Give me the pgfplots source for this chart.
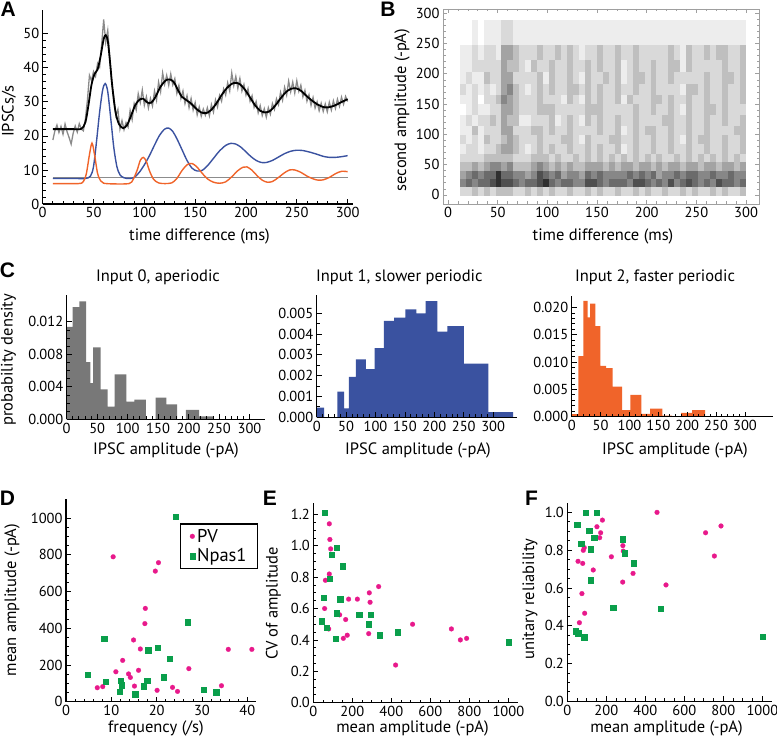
\documentclass[border=0pt]{standalone}
\usepackage{fontspec}
\setmainfont{PT Sans}
\newfontfamily\letterfont{Liberation Sans}
\usepackage{pgfplots}
\usepackage{pgfplotstable}
\pgfplotsset{compat=1.18}
\definecolor{cblue}{HTML}{3A52A0}
\definecolor{corange}{HTML}{F0642A}
\definecolor{cgray}{HTML}{787878}
\definecolor{cpink}{HTML}{E8198B}
\definecolor{cgreen}{HTML}{0A9F4B}
\definecolor{noisegray}{HTML}{8A8A8A}
\newcommand\fs[1]{\fontsize{#1}{#1}\selectfont}
\pgfdeclareplotmark{cell}{\pgfpathrectangle{\pgfqpoint{-0.5pt}{-0.5pt}}{\pgfqpoint{1pt}{1pt}}\pgfusepathqfill}
\pgfplotsset{
  panel/.style={scale only axis, axis lines=left, axis line style={-, line width=1.3pt},
    tick align=inside, major tick length=5pt, minor tick length=3pt,
    tick style={black, line width=0.8pt}, tick label style={font={\fs{14.5}}},
    /pgf/number format/assume math mode=true, /pgf/number format/1000 sep={}, scaled ticks=false},
  pv/.style={only marks, mark=*, mark size=2.4pt, mark options={draw=cpink, fill=cpink, line width=0.2pt},
    legend image code/.code={\draw[##1] plot coordinates {(0pt,0pt)};}},
  np/.style={only marks, mark=square*, mark size=2.7pt, mark options={draw=cgreen, fill=cgreen, line width=0.2pt},
    legend image code/.code={\draw[##1] plot coordinates {(0pt,0pt)};}},
}
\pgfplotstableread{
t r1 r2 r3 r4 r5 r6 r7 r8 r9 r10 r11 r12 r13 r14 r15 r16
15 2 5 4 3 2 1 2 1 1 0 1 2 1 1 1 0
21 2 6 5 3 2 2 1 1 2 1 1 1 2 1 1 0
27 3 5 6 4 2 2 2 3 1 2 2 2 1 2 2 1
33 2 6 5 3 2 1 1 1 2 1 0 1 1 2 1 0
39 3 6 6 4 3 2 3 2 2 1 2 2 3 2 2 1
45 2 7 6 5 3 2 2 2 3 2 2 1 2 2 2 1
51 3 8 8 5 3 3 2 2 2 2 3 2 2 2 1 1
57 3 7 6 4 3 4 3 4 4 4 5 4 4 4 4 2
63 3 7 6 5 3 4 4 4 3 4 4 5 4 3 4 2
69 2 6 5 3 2 3 3 2 3 3 3 3 2 3 3 1
75 2 5 5 3 2 2 2 2 1 2 2 2 2 2 2 1
81 3 6 4 3 2 1 2 2 1 2 2 1 2 1 2 1
87 2 6 5 4 3 2 2 3 2 2 2 2 2 3 2 1
93 3 7 7 5 3 3 3 3 2 3 3 3 3 2 3 1
99 2 8 6 4 3 2 2 2 2 3 2 2 1 2 2 1
105 3 6 5 3 2 3 2 3 3 3 2 3 3 3 2 1
111 2 5 6 4 3 2 2 2 1 2 2 2 2 2 3 1
117 2 6 4 3 2 2 3 2 2 2 1 2 2 2 2 1
123 3 6 5 4 2 3 3 3 3 2 3 3 3 3 3 1
129 2 5 5 3 3 2 2 2 2 2 2 3 2 2 2 1
135 2 5 4 3 2 2 1 2 1 2 1 2 1 2 1 1
141 3 7 6 4 3 3 3 2 3 3 3 3 3 3 2 1
147 2 7 5 4 2 2 2 2 2 3 2 2 2 2 2 1
153 3 6 6 4 3 3 2 3 3 3 3 3 2 3 3 1
159 2 5 5 3 2 2 2 2 2 2 2 2 3 2 2 1
165 2 6 5 4 3 2 3 2 2 2 2 2 2 2 2 1
171 3 6 5 3 2 3 3 3 3 2 3 3 3 3 3 1
177 2 6 5 4 3 1 2 1 2 2 1 2 1 1 2 1
183 2 5 6 4 2 2 2 2 2 2 3 2 2 2 2 1
189 3 7 5 3 3 3 3 3 3 3 2 3 3 3 3 1
195 2 7 6 4 2 2 2 2 2 2 2 2 3 2 2 1
201 3 6 5 4 3 2 2 3 2 2 2 2 2 2 2 1
207 2 5 6 3 2 3 3 3 2 3 3 3 3 3 2 1
213 2 6 4 4 3 2 2 2 2 2 3 2 2 2 2 1
219 3 5 5 3 2 2 2 2 3 2 2 2 2 2 2 1
225 2 7 5 4 2 3 3 3 3 3 3 2 3 3 3 1
231 2 5 6 4 3 2 2 2 2 2 2 2 2 3 2 1
237 3 6 5 3 2 2 1 2 2 1 2 1 2 1 1 1
243 2 7 6 4 3 3 3 3 3 3 3 3 2 3 3 1
249 3 6 6 4 2 2 2 2 2 2 2 3 2 2 2 1
255 2 5 5 3 3 2 3 2 2 2 2 2 2 2 2 1
261 2 6 5 4 2 3 3 3 3 3 3 3 3 2 3 1
267 3 5 6 4 3 2 2 2 2 3 2 2 2 2 2 1
273 2 7 5 3 2 2 2 2 2 2 2 2 2 2 3 1
279 3 6 5 4 3 3 3 2 3 3 3 3 3 3 3 1
285 2 6 6 4 2 2 2 2 2 2 2 2 3 2 2 1
291 2 5 5 3 3 2 2 3 2 2 2 2 2 2 2 1
297 3 6 5 4 2 3 3 3 3 2 3 3 3 3 3 1
}\heat
\begin{document}
\begin{tikzpicture}[x=1pt,y=1pt]
\path[use as bounding box] (0pt,0pt) rectangle (777pt,739pt);

% ---------------- A
\begin{axis}[panel, at={(42.7pt,535pt)}, anchor=south west, width=310pt, height=194pt,
  xmin=0, xmax=305, ymin=0, ymax=57, xtick={0,50,...,300}, ytick={0,10,...,50},
  minor x tick num=4, minor y tick num=4]
\addplot[gray!90, line width=1.1pt] coordinates {(10,7.9) (300,7.9)};
\addplot[cblue, line width=1.4pt, smooth] coordinates {(10,7.5)(30,7.5)(42,7.5)(47,8.2)(50,11)(53,18.5)(56,27)(59,33.5)(61.5,35.4)(64,33)(67,25)(70,16.5)(73,11)(76,8.6)(80,7.7)(85,7.5)(90,7.8)(95,9.3)(100,11.5)(105,14.2)(110,17.3)(115,20.2)(120,22)(124,22.3)(128,21.3)(132,19.2)(137,16)(142,12.8)(147,10.5)(152,9.7)(157,9.9)(162,11.2)(168,13.4)(174,15.6)(180,17.2)(185,17.8)(190,17.6)(195,16.7)(200,15.3)(205,13.9)(210,12.8)(215,12.2)(220,12.2)(226,12.8)(232,13.8)(238,14.8)(244,15.5)(250,15.8)(256,15.7)(262,15.3)(270,14.6)(276,14.0)(282,13.7)(288,13.7)(294,13.9)(300,14.2)};
\addplot[corange, line width=1.4pt, smooth] coordinates {(10,6)(35,6)(40,6.6)(43,9)(46,14.5)(48.5,17.9)(51,14.5)(54,9)(57,6.8)(60,6.1)(70,5.9)(85,6)(89,7.2)(93,10)(96,12.8)(99,13.7)(102,12.5)(105,9.8)(109,7.3)(114,6.2)(120,6)(127,6.2)(132,7.5)(137,9.8)(142,11.5)(147,11.9)(152,10.8)(157,9)(162,7.4)(168,6.4)(174,6.1)(180,6.5)(186,8)(192,9.8)(197,10.8)(201,10.9)(206,9.9)(211,8.3)(216,7)(221,6.4)(226,6.6)(232,7.8)(238,9.2)(243,10)(248,10)(254,9.3)(260,8.2)(266,7.4)(271,7.0)(276,7.1)(282,7.8)(288,8.9)(294,9.6)(300,9.5)};
\addplot[noisegray, line width=1.3pt] coordinates {(10,18.8)(12,21.5)(14,23.2)(16,21.0)(18,22.8)(20,20.5)(22,23.5)(24,21.2)(26,19.5)(28,17.6)(30,20.8)(32,22.9)(34,21.1)(36,23.6)(38,22.0)(40,21.5)(42,25.0)(44,30.5)(46,37.8)(48,36.2)(50,38.9)(52,37.5)(54,41.3)(56,40.2)(58,46.8)(60,54.2)(62,47.5)(64,51.0)(66,43.0)(68,35.2)(70,31.5)(72,26.0)(74,27.8)(76,22.0)(78,24.5)(80,21.8)(82,23.9)(84,22.6)(86,27.5)(88,24.8)(90,29.5)(92,27.6)(94,32.4)(96,29.8)(98,33.5)(100,29.0)(102,31.5)(104,28.2)(106,31.0)(108,28.8)(110,33.2)(112,30.5)(114,35.8)(116,33.0)(118,38.5)(120,35.2)(122,37.8)(124,34.9)(126,38.2)(128,35.0)(130,36.8)(132,32.5)(134,34.8)(136,31.0)(138,33.2)(140,29.5)(142,31.8)(144,28.3)(146,31.0)(148,27.6)(150,29.8)(152,26.2)(154,28.5)(156,25.8)(158,27.9)(160,26.1)(162,28.3)(164,25.9)(166,29.2)(168,27.0)(170,30.6)(172,28.5)(174,31.9)(176,30.2)(178,33.8)(180,32.0)(182,35.6)(184,33.2)(186,38.5)(188,34.8)(190,37.5)(192,34.0)(194,36.9)(196,33.2)(198,35.1)(200,32.0)(202,33.9)(204,30.2)(206,31.8)(208,28.4)(210,30.1)(212,26.8)(214,28.9)(216,26.0)(218,28.0)(220,25.5)(222,28.3)(224,26.4)(226,29.5)(228,27.8)(230,30.9)(232,29.2)(234,32.8)(236,30.5)(238,34.3)(240,32.0)(242,36.1)(244,33.0)(246,35.8)(248,32.6)(250,36.2)(252,33.1)(254,34.9)(256,31.5)(258,33.4)(260,30.2)(262,32.1)(264,29.0)(266,31.3)(268,28.2)(270,30.0)(272,27.4)(274,29.6)(276,27.2)(278,29.4)(280,27.1)(282,29.9)(284,27.6)(286,30.3)(288,28.1)(290,30.8)(292,28.7)(294,31.4)(296,29.3)(298,31.6)(300,30.1)};
\addplot[black, line width=1.8pt, smooth] coordinates {(10,22.0)(20,22.0)(30,22.0)(38,22.1)(42,24.0)(45,29.0)(48,35.0)(51,38.2)(54,39.5)(57,43.5)(60,48.5)(62,49.6)(64,48)(66,42.5)(68,36)(70,30.5)(72,26.5)(75,23.5)(79,22.3)(83,23.2)(87,26)(91,29)(95,30.6)(99,30.9)(103,29.8)(107,29.8)(111,31.5)(116,34.5)(121,36.3)(125,36.6)(129,35.8)(133,33.5)(137,31.5)(141,30.6)(146,29.5)(151,28)(156,26.9)(161,26.7)(166,27.7)(171,29.6)(176,32)(181,34)(186,35.3)(190,35.6)(194,35.2)(199,33.6)(204,31.3)(209,29.0)(214,27.4)(219,26.9)(224,27.4)(229,29.0)(234,31.0)(239,32.8)(244,33.8)(249,34.0)(254,33.3)(259,31.9)(264,30.6)(270,29.3)(276,28.5)(281,28.4)(287,28.9)(293,29.8)(300,30.8)};
\end{axis}

% ---------------- B
\begin{axis}[scale only axis, at={(443pt,535pt)}, anchor=south west, width=316pt, height=195pt,
  xmin=-5, xmax=313, ymin=-15, ymax=307, xtick={0,50,...,300}, ytick={0,50,...,300},
  minor x tick num=4, minor y tick num=4, tick align=inside, major tick length=4pt, minor tick length=2.5pt,
  axis line style={gray!75, line width=0.8pt}, tick style={gray!75, line width=0.6pt},
  tick label style={font={\fs{14.5}}}, /pgf/number format/assume math mode=true, axis on top,
  colormap={hm}{gray=(1) gray=(0.93) gray=(0.85) gray=(0.75) gray=(0.64) gray=(0.53) gray=(0.42) gray=(0.31) gray=(0.19) gray=(0.07)},
  point meta min=0, point meta max=9]
\addplot[scatter, only marks, mark=cell, mark options={xscale=6.3, yscale=9.5}, point meta=explicit] table[x=t, y expr=5.5, meta=r1] {\heat};
\addplot[scatter, only marks, mark=cell, mark options={xscale=6.3, yscale=8.3}, point meta=explicit] table[x=t, y expr=19.5, meta=r2] {\heat};
\addplot[scatter, only marks, mark=cell, mark options={xscale=6.3, yscale=8.9}, point meta=explicit] table[x=t, y expr=33, meta=r3] {\heat};
\addplot[scatter, only marks, mark=cell, mark options={xscale=6.3, yscale=9.5}, point meta=explicit] table[x=t, y expr=47.5, meta=r4] {\heat};
\addplot[scatter, only marks, mark=cell, mark options={xscale=6.3, yscale=8.3}, point meta=explicit] table[x=t, y expr=61.5, meta=r5] {\heat};
\addplot[scatter, only marks, mark=cell, mark options={xscale=6.3, yscale=10.1}, point meta=explicit] table[x=t, y expr=76, meta=r6] {\heat};
\addplot[scatter, only marks, mark=cell, mark options={xscale=6.3, yscale=9.5}, point meta=explicit] table[x=t, y expr=91.5, meta=r7] {\heat};
\addplot[scatter, only marks, mark=cell, mark options={xscale=6.3, yscale=9.5}, point meta=explicit] table[x=t, y expr=106.5, meta=r8] {\heat};
\addplot[scatter, only marks, mark=cell, mark options={xscale=6.3, yscale=11.3}, point meta=explicit] table[x=t, y expr=123, meta=r9] {\heat};
\addplot[scatter, only marks, mark=cell, mark options={xscale=6.3, yscale=11.9}, point meta=explicit] table[x=t, y expr=141.5, meta=r10] {\heat};
\addplot[scatter, only marks, mark=cell, mark options={xscale=6.3, yscale=9.5}, point meta=explicit] table[x=t, y expr=158.5, meta=r11] {\heat};
\addplot[scatter, only marks, mark=cell, mark options={xscale=6.3, yscale=11.3}, point meta=explicit] table[x=t, y expr=175, meta=r12] {\heat};
\addplot[scatter, only marks, mark=cell, mark options={xscale=6.3, yscale=12.5}, point meta=explicit] table[x=t, y expr=194, meta=r13] {\heat};
\addplot[scatter, only marks, mark=cell, mark options={xscale=6.3, yscale=11.9}, point meta=explicit] table[x=t, y expr=213.5, meta=r14] {\heat};
\addplot[scatter, only marks, mark=cell, mark options={xscale=6.3, yscale=15.5}, point meta=explicit] table[x=t, y expr=235.5, meta=r15] {\heat};
\addplot[scatter, only marks, mark=cell, mark options={xscale=6.3, yscale=25.2}, point meta=explicit] table[x=t, y expr=268.5, meta=r16] {\heat};
\end{axis}

% ---------------- C1
\begin{axis}[panel, axis on top, at={(66.7pt,319.7pt)}, anchor=south west, width=198pt, height=124.3pt,
  xmin=0, xmax=325, ymin=0, ymax=0.0153, xtick={0,50,...,300}, minor x tick num=4,
  ytick={0,0.004,0.008,0.012}, minor y tick num=3,
  yticklabel style={/pgf/number format/.cd, fixed, fixed zerofill, precision=3}]
\addplot[ybar interval, fill=cgray, draw=none] coordinates {(0,0.01139)(9.8,0.0138)(20.8,0.0145)(31.7,0.00704)(38.8,0.00446)(43.2,0.00885)(55.7,0.00369)(67.2,0.00156)(78.7,0.00553)(97.8,0.00217)(110.9,0.00242)(130,0)(146,0.00266)(163.5,0.00184)(181.3,0)(195.8,0.00115)(217.5,0.00035)(240.5,0)};
\end{axis}

% ---------------- C2
\begin{axis}[panel, axis on top, at={(316.7pt,321.7pt)}, anchor=south west, width=200pt, height=122.3pt,
  xmin=0, xmax=340, ymin=0, ymax=0.00588, xtick={0,50,...,300}, minor x tick num=4,
  ytick={0,0.001,...,0.005}, minor y tick num=1,
  yticklabel style={/pgf/number format/.cd, fixed, fixed zerofill, precision=3}]
\addplot[ybar interval, fill=cblue, draw=none] coordinates {(0,0.000465)(12.5,0)(35.2,0.00123)(46.6,0.00043)(54.5,0.00194)(66.5,0.00279)(83.5,0.00231)(98.3,0.00332)(114.2,0.00463)(131.8,0.00479)(150.6,0.00519)(169.3,0.005)(185.2,0.00559)(205.1,0.00412)(222.2,0.00438)(250,0.00258)(292,0.00025)(334,0)};
\end{axis}

% ---------------- C3
\begin{axis}[panel, axis on top, at={(571.7pt,322.3pt)}, anchor=south west, width=201pt, height=120.7pt,
  xmin=0, xmax=348, ymin=0, ymax=0.0221, xtick={0,50,...,300}, minor x tick num=4,
  ytick={0,0.005,...,0.02}, minor y tick num=4,
  yticklabel style={/pgf/number format/.cd, fixed, fixed zerofill, precision=3}]
\addplot[ybar interval, fill=corange, draw=none] coordinates {(0,0.00049)(11.5,0.0111)(20.2,0.0212)(27.7,0.0182)(31.7,0.0207)(41,0.0166)(49.6,0.0093)(59.4,0.0089)(71,0.0055)(87.1,0.0012)(101.6,0.004)(120.6,0.0005)(135.6,0.0015)(157,0.0002)(173.7,0)(189.3,0.0007)(208.3,0.0012)(230.8,0)};
\end{axis}

% ---------------- D
\begin{axis}[panel, at={(66pt,37.3pt)}, anchor=south west, width=190.4pt, height=202.4pt,
  xmin=0, xmax=42, ymin=0, ymax=1102, xtick={0,10,...,40}, minor x tick num=4,
  ytick={0,200,...,1000}, minor y tick num=3, clip=false,
  legend style={at={(axis cs:42.4,971)}, anchor=north east, draw=black, line width=1.3pt,
    font={\fs{18.5}}, inner xsep=9pt, inner ysep=3pt, row sep=1pt,
    /tikz/every even column/.append style={column sep=7pt}},
  legend cell align=left]
\addplot[pv] coordinates {(10.4,789)(20.4,757)(19.7,711)(17.5,508)(17.4,425)(14.9,336)(16.4,287)(12.5,225)(11.0,163)(13.8,151)(14.2,132)(16.0,171)(27.1,180)(35.8,285)(41.0,285)(6.9,76)(8.1,82)(15.1,85)(20.1,62)(23.5,78)(24.6,56)(34.3,87)};
\addlegendentry{PV}
\addplot[np] coordinates {(24.2,1007)(26.8,434)(8.4,343)(18.1,281)(20.2,294)(22.9,234)(4.7,149)(8.75,111)(12.1,116)(12.3,91)(11.8,56)(15.2,42)(17.1,85)(17.9,116)(21.5,134)(30.4,67)(33.1,53)};
\addlegendentry{Npas1}
\end{axis}

% ---------------- E
\begin{axis}[panel, at={(313.3pt,36.3pt)}, anchor=south west, width=205pt, height=199.3pt,
  xmin=0, xmax=1051, ymin=0, ymax=1.27, xtick={0,200,...,1000}, minor x tick num=3,
  ytick={0,0.2,...,1.2}, minor y tick num=3, clip=false,
  yticklabel style={/pgf/number format/.cd, fixed, fixed zerofill, precision=1}]
\addplot[pv] coordinates {(82,1.14)(85,1.04)(89,0.98)(82,0.82)(62,0.78)(58,0.60)(79,0.47)(135,0.56)(166,0.53)(154,0.41)(174,0.43)(181,0.66)(226,0.66)(287,0.70)(291,0.64)(335,0.74)(284,0.44)(422,0.24)(509,0.50)(708,0.47)(754,0.40)(786,0.41)};
\addplot[np] coordinates {(58,1.21)(118,0.99)(94,0.945)(149,0.87)(85,0.79)(53,0.67)(137,0.66)(120,0.57)(44,0.52)(68,0.48)(113,0.41)(234,0.56)(294,0.56)(284,0.50)(340,0.43)(432,0.45)(1000,0.385)};
\end{axis}

% ---------------- F
\begin{axis}[panel, at={(567.3pt,37.7pt)}, anchor=south west, width=204.8pt, height=198pt,
  xmin=0, xmax=1050, ymin=0, ymax=1.048, xtick={0,200,...,1000}, minor x tick num=3,
  ytick={0,0.2,...,1.0}, minor y tick num=3, clip=false,
  yticklabel style={/pgf/number format/.cd, fixed, fixed zerofill, precision=1}]
\addplot[pv] coordinates {(180,0.959)(152,0.924)(171,0.892)(166,0.866)(226,0.765)(285,0.824)(287,0.795)(337,0.677)(284,0.631)(133,0.695)(82,0.799)(87,0.813)(55,0.741)(79,0.730)(75,0.570)(89,0.466)(62,0.416)(460,1.0)(709,0.892)(788,0.928)(754,0.769)(506,0.616)};
\addplot[np] coordinates {(94,1.0)(149,1.0)(51,0.935)(111,0.903)(137,0.866)(70,0.836)(120,0.806)(282,0.859)(294,0.785)(340,0.732)(120,0.642)(234,0.496)(479,0.492)(43,0.372)(56,0.360)(87,0.339)(1002,0.342)};
\end{axis}

% ---------------- texts
\begin{scope}[every node/.style={font={\fs{16.5}}, inner sep=0pt}]
\node[rotate=90] at (9pt,628pt) {IPSCs/s};
\node at (199.5pt,502.3pt) {time difference (ms)};
\node[rotate=90] at (402pt,629pt) {second amplitude (-pA)};
\node at (603pt,502.3pt) {time difference (ms)};
\node[rotate=90] at (8.5pt,379pt) {probability density};
\node at (158pt,462pt) {Input 0, aperiodic};
\node at (399.3pt,461.7pt) {Input 1, slower periodic};
\node at (655pt,462pt) {Input 2, faster periodic};
\node at (166pt,289pt) {IPSC amplitude (-pA)};
\node at (418pt,289pt) {IPSC amplitude (-pA)};
\node at (675pt,289pt) {IPSC amplitude (-pA)};
\node[rotate=90] at (12pt,139pt) {mean amplitude (-pA)};
\node at (156pt,11pt) {frequency (/s)};
\node[rotate=90] at (273.5pt,135.5pt) {CV of amplitude};
\node at (412.5pt,11pt) {mean amplitude (-pA)};
\node[rotate=90] at (530pt,140pt) {unitary reliability};
\node at (666.5pt,11pt) {mean amplitude (-pA)};
\end{scope}
\begin{scope}[every node/.style={font={\letterfont\bfseries\fs{21}}, inner sep=0pt}]
\node at (8.3pt,729.3pt) {A};
\node at (388pt,729.8pt) {B};
\node at (7.5pt,469pt) {C};
\node at (7.5pt,241pt) {D};
\node at (270pt,241pt) {E};
\node at (531.5pt,241pt) {F};
\end{scope}
\end{tikzpicture}
\end{document}
